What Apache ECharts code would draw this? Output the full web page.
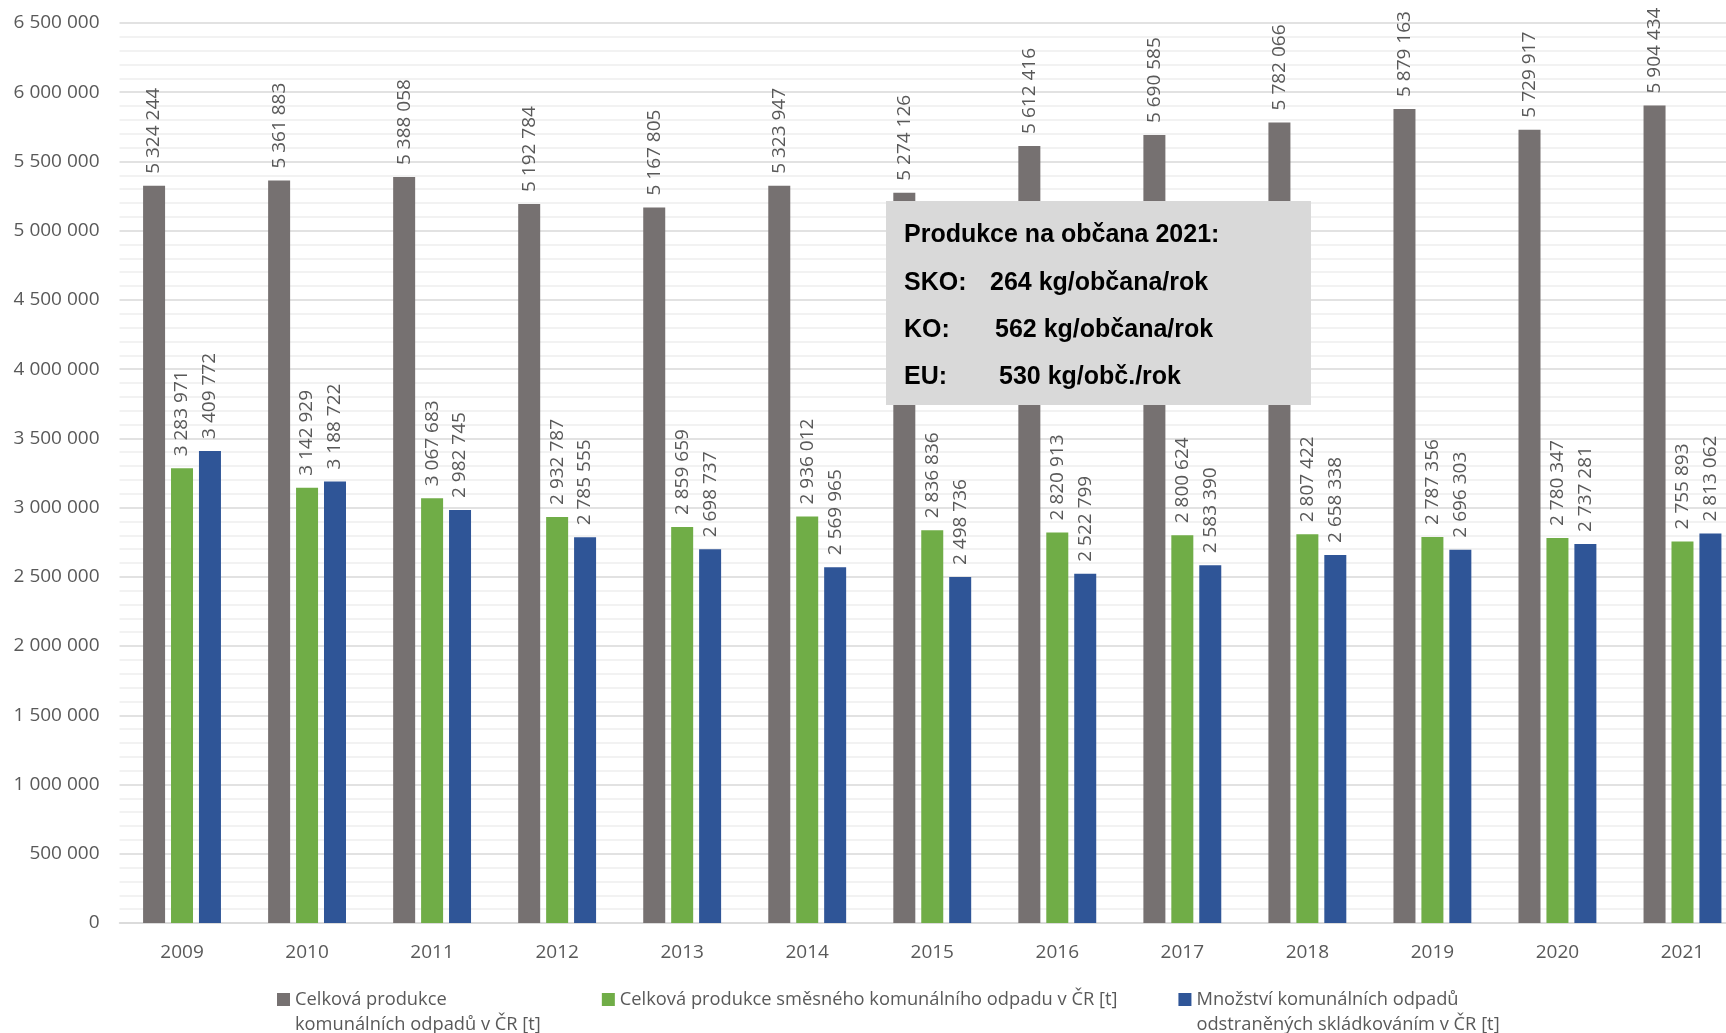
<!DOCTYPE html>
<html>
<head>
<meta charset="utf-8">
<script src="https://cdn.jsdelivr.net/npm/echarts@6/dist/echarts.min.js"></script>
<style>
  html, body { margin: 0; padding: 0; background: #fff; overflow: hidden; }
  /* plocha grafu přesahuje pravý okraj jako v originále */
  #chart { width: 1745px; height: 1033px; }
</style>
</head>
<body>
<div id="chart"></div>
<script>
// roky
const years = ['2009', '2010', '2011', '2012', '2013', '2014', '2015', '2016', '2017', '2018', '2019', '2020', '2021'];

// Celková produkce komunálních odpadů v ČR [t]
const totalKO = [5324244, 5361883, 5388058, 5192784, 5167805, 5323947, 5274126, 5612416, 5690585, 5782066, 5879163, 5729917, 5904434];
// Celková produkce směsného komunálního odpadu v ČR [t]
const mixedSKO = [3283971, 3142929, 3067683, 2932787, 2859659, 2936012, 2836836, 2820913, 2800624, 2807422, 2787356, 2780347, 2755893];
// Množství komunálních odpadů odstraněných skládkováním v ČR [t]
const landfill = [3409772, 3188722, 2982745, 2785555, 2698737, 2569965, 2498736, 2522799, 2583390, 2658338, 2696303, 2737281, 2813062];

const seriesNames = [
    'Celková produkce\nkomunálních odpadů v ČR [t]',
    'Celková produkce směsného komunálního odpadu v ČR [t]',
    'Množství komunálních odpadů\nodstraněných skládkováním v ČR [t]'
];

// text v rámečku
const boxTitle = 'Produkce na občana 2021:';
const boxRows = [['SKO:', '264 kg/občana/rok'], ['KO:', '562 kg/občana/rok'], ['EU:', '530 kg/obč./rok']];

const fmt = v => String(v).replace(/\B(?=(\d{3})+(?!\d))/g, ' ');
const font = '"Open Sans", sans-serif';

const chart = echarts.init(document.getElementById('chart'));

const labelOpt = {
    show: true,
    position: 'top',
    rotate: 90,
    align: 'left',
    verticalAlign: 'middle',
    distance: 12,
    color: '#595959',
    fontSize: 19,
    fontFamily: font,
    formatter: p => fmt(p.value)
};

const mkSeries = (name, data, color) => ({
    name: name,
    type: 'bar',
    data: data,
    barWidth: 22,
    barGap: '27%',
    itemStyle: { color: color },
    label: labelOpt
});

const boxFont = 'bold 25px "Liberation Sans", Arial, sans-serif';
const boxEls = [
    { type: 'rect', z: 100, shape: { x: 886, y: 201, width: 425, height: 204 }, style: { fill: '#d9d9d9' } },
    { type: 'text', z: 101, x: 904, y: 235, style: { text: boxTitle, font: boxFont, fill: '#000', verticalAlign: 'middle' } }
];
const valueX = [990, 995, 999];
boxRows.forEach((r, i) => {
    const y = 283 + i * 47;
    boxEls.push({ type: 'text', z: 101, x: 904, y: y, style: { text: r[0], font: boxFont, fill: '#000', verticalAlign: 'middle' } });
    boxEls.push({ type: 'text', z: 101, x: valueX[i], y: y, style: { text: r[1], font: boxFont, fill: '#000', verticalAlign: 'middle' } });
});

chart.setOption({
    animation: false,
    textStyle: { fontFamily: font },
    grid: { left: 119.5, top: 23, right: 0, bottom: 110, containLabel: false },
    legend: {
        left: 272,
        top: 982,
        itemWidth: 13,
        itemHeight: 38,
        itemGap: 61,
        // čtvereček zarovnaný k prvnímu řádku textu
        icon: 'path://M0,0h13v13h-13z M0,38 L0.01,38',
        textStyle: { color: '#595959', fontSize: 18.3, fontFamily: font, lineHeight: 25 },
        formatter: name => name.indexOf('\n') >= 0 ? name : name + '\n ',
        data: seriesNames
    },
    xAxis: {
        type: 'category',
        data: years,
        axisLine: { lineStyle: { color: '#d9d9d9', width: 1.5 } },
        axisTick: { show: false },
        axisLabel: { color: '#595959', fontSize: 19, fontFamily: font, margin: 20 }
    },
    yAxis: {
        type: 'value',
        min: 0,
        max: 6500000,
        interval: 500000,
        axisLine: { show: false },
        axisTick: { show: false },
        axisLabel: { color: '#595959', fontSize: 19, fontFamily: font, margin: 20, formatter: v => fmt(v) },
        splitLine: { lineStyle: { color: '#d9d9d9', width: 1.5 } },
        minorTick: { show: false, splitNumber: 5 },
        minorSplitLine: { show: true, lineStyle: { color: '#eeeeee', width: 1.5 } }
    },
    series: [
        mkSeries(seriesNames[0], totalKO, '#767171'),
        mkSeries(seriesNames[1], mixedSKO, '#70ad47'),
        mkSeries(seriesNames[2], landfill, '#2f5597')
    ],
    graphic: boxEls
});

window.addEventListener('resize', () => chart.resize());
</script>
</body>
</html>
